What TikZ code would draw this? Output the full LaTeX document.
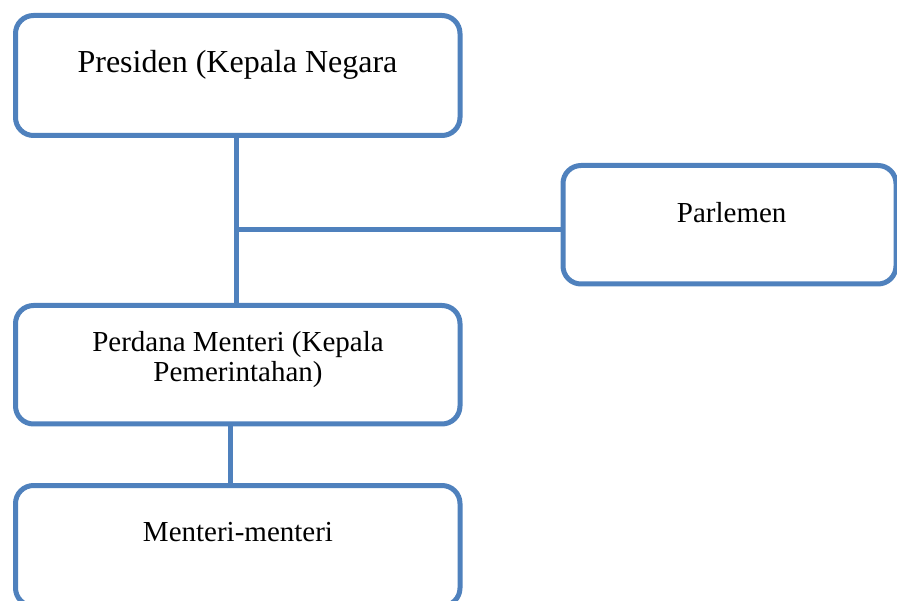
\documentclass[tikz,border=0pt]{standalone}
\usepackage{fontspec}
\setmainfont{Liberation Serif}
\definecolor{boxblue}{RGB}{79,129,189}
\begin{document}
\begin{tikzpicture}[x=1pt,y=-1pt,
  orgbox/.style={draw=boxblue,line width=5pt,rounded corners=18pt,inner sep=0pt,outer sep=0pt,fill=white},
  conn/.style={draw=boxblue,line width=5pt},
  lbl/.style={inner sep=0pt,outer sep=0pt,anchor=base,font=\fontsize{29}{30}\selectfont,align=center}]
\useasboundingbox (0,0) rectangle (897,601);
\clip (0,0) rectangle (897,601);
\coordinate (jtop) at (236,135.5);
\coordinate (jmid) at (236,229.5);
\coordinate (jbot) at (236,305.5);
\coordinate (ltop) at (230,424);
\coordinate (lbot) at (230,485.5);
\node[orgbox,minimum width=444.5pt,minimum height=120pt] (pres) at (237.75,75.5) {};
\node[orgbox,minimum width=333pt,minimum height=118.5pt] (parl) at (729.5,224.75) {};
\node[orgbox,minimum width=444.5pt,minimum height=118.5pt] (pm) at (237.75,364.75) {};
\node[orgbox,minimum width=444.5pt,minimum height=120.5pt] (men) at (237.75,545.75) {};
\draw[conn] (jtop |- pres.south) -- (jbot |- pm.north);
\draw[conn] (jmid) -- (jmid -| parl.west);
\draw[conn] (ltop |- pm.south) -- (lbot |- men.north);
\node[lbl,font=\fontsize{32}{34}\selectfont] (tpres) at (237.5,73) {Presiden (Kepala Negara};
\node[lbl] (tparl) at (731.7,223) {Parlemen};
\node[lbl] (tpm) at (238,382) {Perdana Menteri (Kepala\\Pemerintahan)};
\node[lbl] (tmen) at (238,541.7) {Menteri-menteri};
\end{tikzpicture}
\end{document}
